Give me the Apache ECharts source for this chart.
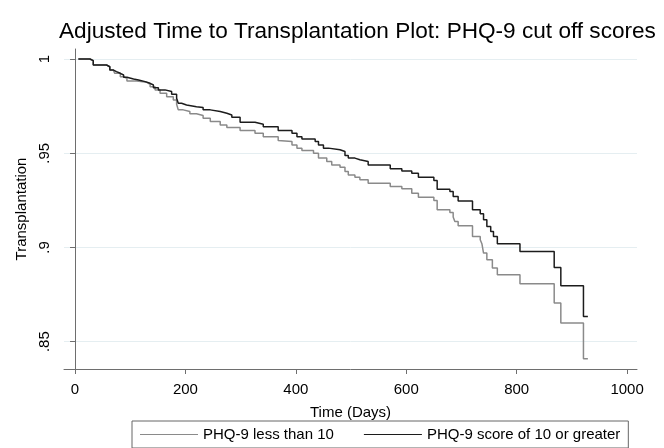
<!DOCTYPE html>
<html>
<head>
<meta charset="utf-8">
<script src="https://cdn.jsdelivr.net/npm/echarts@6/dist/echarts.min.js"></script>
<style>html,body{margin:0;padding:0;background:#fff}#c{width:664px;height:448px}</style>
</head>
<body>
<div id="c"></div>
<script>
// Series: [day, adjusted survival] step points (Kaplan-Meier style)
const seriesNames = ["PHQ-9 less than 10", "PHQ-9 score of 10 or greater"];
const lowPHQ = [
  [6,1.0],[27,0.9991],[33,0.9968],[57,0.9959],[63,0.9942],[69,0.9933],[72,0.9924],[82,0.9906],
  [88,0.9898],[94,0.9883],[112,0.9876],[130,0.9866],[136,0.9853],[145,0.9836],[154,0.9818],
  [166,0.9800],[178,0.9783],[184,0.9760],[187,0.9730],[196,0.9721],[208,0.9709],[220,0.9700],
  [232,0.9686],[245,0.9668],[263,0.9650],[275,0.9636],[299,0.9620],[326,0.9606],[341,0.9588],
  [368,0.9567],[371,0.9562],[393,0.9544],[402,0.9527],[411,0.9514],[432,0.9500],[441,0.9474],
  [456,0.9456],[465,0.9438],[480,0.9426],[489,0.9403],[495,0.9385],[507,0.9373],[516,0.9359],
  [531,0.9341],[571,0.9323],[592,0.9311],[610,0.9288],[622,0.9267],[650,0.9249],[656,0.9200],
  [679,0.9185],[685,0.9161],[688,0.9138],[694,0.9115],[720,0.9058],[734,0.9041],[737,0.9020],
  [740,0.8970],[746,0.8935],[756,0.8891],[765,0.8855],[806,0.8807],[868,0.8705],[880,0.8599],
  [921,0.8410],[929,0.8410]
];
const highPHQ = [
  [6,1.0],[27,0.9991],[33,0.9968],[57,0.9959],[63,0.9942],[69,0.9933],[75,0.9924],[82,0.9915],
  [88,0.9903],[94,0.9894],[106,0.9889],[115,0.9880],[127,0.9871],[136,0.9862],[142,0.9848],
  [151,0.9836],[163,0.9827],[175,0.9813],[184,0.9792],[187,0.9765],[193,0.9756],[202,0.9747],
  [220,0.9742],[232,0.9730],[245,0.9721],[263,0.9712],[275,0.9703],[284,0.9691],[299,0.9664],
  [326,0.9654],[341,0.9641],[368,0.9620],[393,0.9606],[402,0.9588],[411,0.9576],[435,0.9562],
  [441,0.9544],[450,0.9527],[459,0.9518],[480,0.9509],[489,0.9488],[495,0.9474],[507,0.9465],
  [516,0.9456],[531,0.9438],[571,0.9417],[592,0.9406],[610,0.9394],[622,0.9373],[650,0.9355],
  [656,0.9309],[679,0.9297],[685,0.9270],[694,0.9247],[720,0.9200],[734,0.9179],[740,0.9147],
  [746,0.9111],[753,0.9085],[758,0.9058],[765,0.9020],[806,0.8979],[868,0.8894],[880,0.8797],
  [921,0.8634],[929,0.8634]
];
const xTicks = [0, 200, 400, 600, 800, 1000];
const yTicks = [0.85, 0.9, 0.95, 1];

const FONT = "Liberation Sans, Arial, sans-serif";
// thin horizontal bar icon; tiny corner segments fix the bounding box so the bar stays thin
const lineIcon = 'path://M0,0L0.01,0L0.01,0.01L0,0.01Z M0,6.3L100,6.3L100,7.7L0,7.7Z M99.99,13.99L100,13.99L100,14L99.99,14Z';
const chart = echarts.init(document.getElementById('c'), null, {renderer: 'canvas'});
const axisColor = '#6e6e6e';
chart.setOption({
  animation: false,
  backgroundColor: '#fff',
  title: {
    text: 'Adjusted Time to Transplantation Plot: PHQ-9 cut off scores',
    left: 59, top: 20, padding: 0,
    textStyle: {fontFamily: FONT, fontSize: 22.6, fontWeight: 'normal', color: '#000'}
  },
  legend: {
    data: seriesNames.map(n => ({name: n, icon: lineIcon})),
    left: 132, top: 421,
    padding: [6, 8],
    itemGap: 30, itemWidth: 58, itemHeight: 14,
    borderColor: '#666', borderWidth: 1, borderRadius: 0,
    textStyle: {fontFamily: FONT, fontSize: 15, color: '#000'}
  },
  grid: {left: 64, right: 27, top: 49, bottom: 79, containLabel: false},
  xAxis: {
    type: 'value', min: -20, max: 1018,
    name: 'Time (Days)', nameLocation: 'middle', nameGap: 36,
    nameTextStyle: {fontFamily: FONT, fontSize: 15, color: '#000'},
    axisLine: {show: true, lineStyle: {color: axisColor, width: 1}},
    axisTick: {show: true, length: 5, customValues: xTicks, lineStyle: {color: axisColor}},
    axisLabel: {customValues: xTicks, margin: 13, fontFamily: FONT, fontSize: 15, color: '#000',
      formatter: v => String(Math.round(v))},
    splitLine: {show: false}
  },
  yAxis: {
    type: 'value', min: 0.8355, max: 1.0053,
    name: 'Transplantation', nameLocation: 'middle', nameGap: 34, nameRotate: 90,
    nameTextStyle: {fontFamily: FONT, fontSize: 15, color: '#000'},
    axisLine: {show: true, lineStyle: {color: axisColor, width: 1}},
    axisTick: {show: true, length: 5, customValues: yTicks, lineStyle: {color: axisColor}},
    axisLabel: {
      customValues: yTicks, rotate: 90, margin: 12, fontFamily: FONT, fontSize: 15, color: '#000',
      formatter: v => (Math.abs(v - 1) < 1e-9 ? '1' : String(+v.toFixed(2)).replace(/^0/, ''))
    },
    splitLine: {show: false}
  },
  series: [
    {
      name: 'grid', type: 'line', data: [], silent: true, z: 0,
      markLine: {
        silent: true, symbol: 'none', z: 0, animation: false,
        label: {show: false},
        lineStyle: {color: '#e5eef1', width: 1, type: 'solid'},
        data: yTicks.map(v => ({yAxis: v}))
      }
    },
    {
      name: seriesNames[0], type: 'line', step: 'end', data: lowPHQ,
      symbol: 'none', showSymbol: false, z: 3,
      lineStyle: {color: '#8a8a8a', width: 1.5}, itemStyle: {color: '#8a8a8a'}
    },
    {
      name: seriesNames[1], type: 'line', step: 'end', data: highPHQ,
      symbol: 'none', showSymbol: false, z: 4,
      lineStyle: {color: '#1c1c1c', width: 1.5}, itemStyle: {color: '#1c1c1c'}
    }
  ]
});
</script>
</body>
</html>
